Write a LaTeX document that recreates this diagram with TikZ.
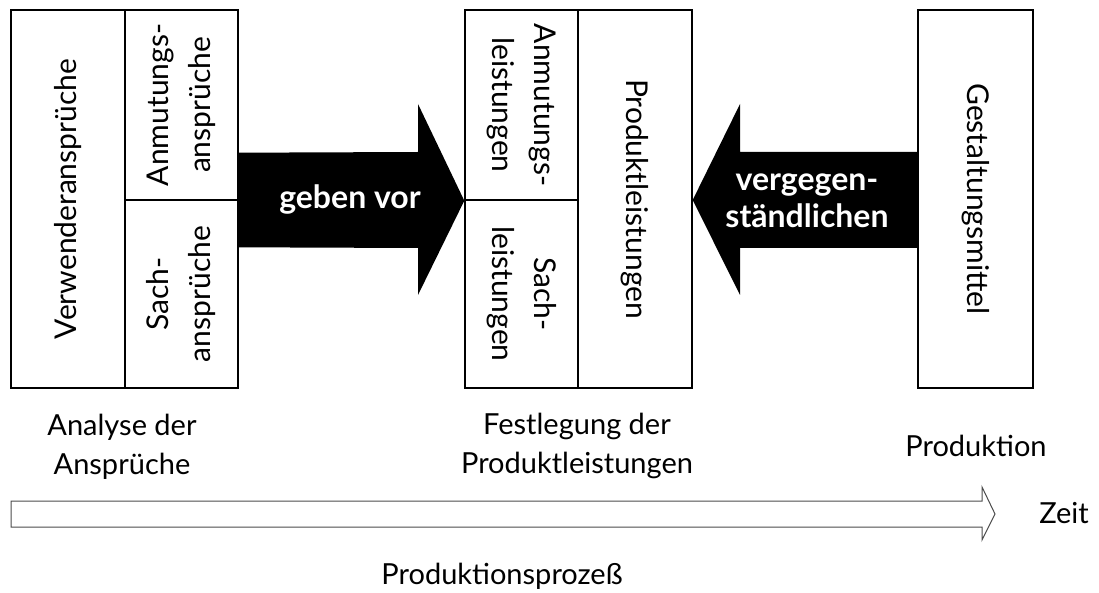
\documentclass[tikz,border=0pt]{standalone}
\usepackage{fontspec}
\setmainfont{Lato}
\usetikzlibrary{calc}
\begin{document}
\begin{tikzpicture}[x=1pt,y=-1pt,
  cell/.style={draw=black, line width=1.4pt, inner sep=0pt, minimum width=#1},
  vtext/.style={align=center, font=\fontsize{30}{42}\selectfont},
  ltext/.style={align=center, font=\fontsize{29}{39}\selectfont},
  btext/.style={align=center, text=white, font=\fontsize{32}{37}\selectfont\bfseries},
  fat/.style={fill=black, draw=none},
  timearrow/.style={draw=black!70, line width=1pt, fill=white}]
\useasboundingbox (0,0) rectangle (1099,593);

% Analyse: Verwenderansprueche split into Anmutungs- and Sachansprueche
\node[cell=114, minimum height=378] (verw) at (68,199) {};
\node[cell=113, minimum height=190] (anmA) at (181.5,105) {};
\node[cell=113, minimum height=188] (sachA) at (181.5,294) {};
\node[vtext, rotate=90] at (verw.center) {Verwenderansprüche};
\node[vtext, rotate=90] at (anmA.center) {Anmutungs-\\ansprüche};
\node[vtext, rotate=90] at (sachA.center) {Sach-\\ansprüche};

% Festlegung: Anmutungs- and Sachleistungen form the Produktleistungen
\node[cell=113, minimum height=190] (anmL) at (521.5,105) {};
\node[cell=113, minimum height=188] (sachL) at (521.5,294) {};
\node[cell=114, minimum height=378] (prod) at (635,199) {};
\node[vtext, rotate=-90] at (anmL.center) {Anmutungs-\\leistungen};
\node[vtext, rotate=-90] at (sachL.center) {Sach-\\leistungen};
\node[vtext, rotate=-90] at (prod.center) {Produktleistungen};

% Produktion: Gestaltungsmittel
\node[cell=115, minimum height=378] (gest) at (975.5,199) {};
\node[vtext, rotate=-90] at (gest.center) {Gestaltungsmittel};

% block arrows between the stages
\fill[fat] ($(anmA.south east)+(0,-48)$) -- (418,152) -- (418,104) -- (anmL.south west)
  -- (418,295) -- (418,248) -- ($(sachA.north east)+(0,48)$) -- cycle;
\fill[fat] (gest.west |- 0,152) -- (740,152) -- (740,104) -- (prod.east |- 0,200)
  -- (740,295) -- (740,248) -- (gest.west |- 0,248) -- cycle;
\node[btext] (gv) at (350,200) {geben vor};
\node[btext] (vg) at (807,201) {vergegen-\\ständlichen};

% stage labels
\node[ltext] (l1) at (122,447) {Analyse der\\Ansprüche};
\node[ltext] (l2) at (577,446) {Festlegung der\\Produktleistungen};
\node[ltext] (l3) at (976,446) {Produktion};

% time axis
\filldraw[timearrow] (11,501) -- (982,501) -- (982,487) -- (995,514)
  -- (982,540) -- (982,527) -- (11,527) -- cycle;
\node[ltext] (zeit) at (1064,513) {Zeit};
\node[ltext] (proz) at (502,576) {Produktionsprozeß};
\end{tikzpicture}
\end{document}
